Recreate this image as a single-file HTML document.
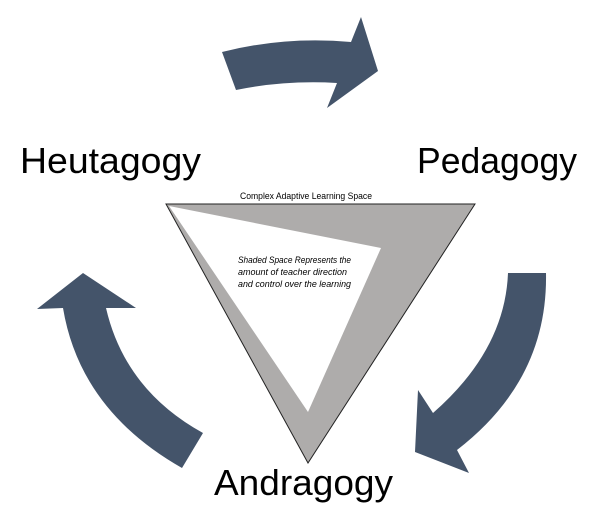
<!DOCTYPE html>
<html><head><style>html,body{margin:0;padding:0;background:#fff}svg{display:block}</style></head>
<body>
<svg width="614" height="525" viewBox="0 0 614 525" xmlns="http://www.w3.org/2000/svg" font-family="Liberation Sans, sans-serif">
<path d="M222,52 Q285,36 351,42 L361,17 L378,71 L327,108 L337,83 Q285,80 236,90 Z" fill="#44546a"/>
<path d="M508,273 L546,273 Q548,380 457,450 L469,473 L415,452 L418,390 L433,413 Q505,350 508,273 Z" fill="#44546a"/>
<path d="M83,273 L136,308 L106,308 Q125,390 203,433 L182,468 Q80,410 63,308 L37,309 Z" fill="#44546a"/>
<polygon points="166,204 475,204 308,463" fill="#aeacab" stroke="#222" stroke-width="1"/>
<polygon points="169,206 381,248 308,412" fill="#fff"/>
<text x="20" y="173" font-size="36" textLength="181" lengthAdjust="spacingAndGlyphs">Heutagogy</text>
<text x="417" y="173" font-size="36" textLength="160" lengthAdjust="spacingAndGlyphs">Pedagogy</text>
<text x="214" y="495" font-size="36" textLength="179" lengthAdjust="spacingAndGlyphs">Andragogy</text>
<text x="240" y="199" font-size="9" textLength="132" lengthAdjust="spacingAndGlyphs">Complex Adaptive Learning Space</text>
<g font-size="9" font-style="italic">
<text x="238" y="263" textLength="113" lengthAdjust="spacingAndGlyphs">Shaded Space Represents the</text>
<text x="238" y="275" textLength="109" lengthAdjust="spacingAndGlyphs">amount of teacher direction</text>
<text x="238" y="287" textLength="113" lengthAdjust="spacingAndGlyphs">and control over the learning</text>
</g>
</svg>
</body></html>
